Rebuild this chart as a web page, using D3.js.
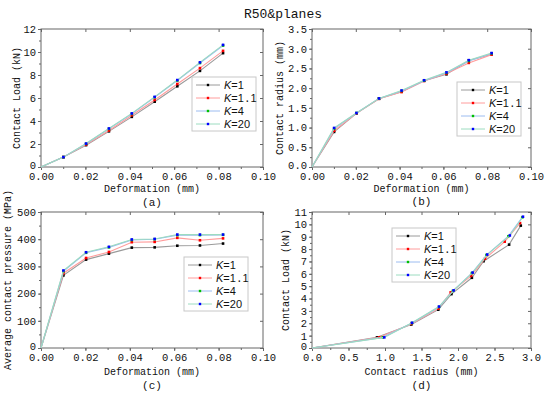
<!DOCTYPE html>
<html>
<head>
<meta charset="utf-8">
<script src="https://cdn.jsdelivr.net/npm/d3@7"></script>
<style>
body { margin: 0; background: #fff; }
svg { display: block; }
.tick text { font-family: "Liberation Mono", monospace; font-size: 10.5px; fill: #111; }
.lab { font-family: "Liberation Mono", monospace; font-size: 10px; fill: #111; }
</style>
</head>
<body>
<svg id="chart" width="550" height="395"></svg>
<script>
// deformation (mm)
var deformation = [0, 0.0101, 0.0203, 0.0306, 0.0409, 0.0512, 0.0614, 0.0716, 0.082];
var seriesNames = ["1", "1.1", "4", "20"];

// contact load (kN)
var loadK1   = [0, 0.86, 1.90, 3.10, 4.36, 5.68, 7.02, 8.36, 9.90];
var loadK11  = [0, 0.86, 1.95, 3.18, 4.50, 5.83, 7.22, 8.60, 10.10];
var loadK4   = [0, 0.86, 2.02, 3.32, 4.62, 6.06, 7.52, 9.04, 10.56];
var loadK20  = [0, 0.86, 2.04, 3.35, 4.66, 6.10, 7.56, 9.10, 10.62];

// contact radius (mm)
var radiusK1  = [0, 0.89, 1.36, 1.73, 1.91, 2.19, 2.35, 2.70, 2.86];
var radiusK11 = [0, 0.92, 1.36, 1.73, 1.90, 2.18, 2.37, 2.64, 2.85];
var radiusK4  = [0, 0.97, 1.37, 1.74, 1.93, 2.19, 2.39, 2.69, 2.88];
var radiusK20 = [0, 0.99, 1.37, 1.74, 1.94, 2.20, 2.40, 2.71, 2.89];

// average contact pressure (MPa)
var pressK1  = [0, 267, 325, 347, 369, 370, 376, 377, 384];
var pressK11 = [0, 275, 331, 353, 389, 390, 405, 396, 403];
var pressK4  = [0, 282, 350, 370, 397, 400, 415, 415, 416];
var pressK20 = [0, 285, 352, 372, 399, 401, 417, 417, 417];

var deformTicks = [0, 0.02, 0.04, 0.06, 0.08, 0.10];

var lineColors   = ["#9a9a9a", "#ff9c9c", "#9cbcf0", "#9cdcc0"];
var markerColors = ["#000000", "#ff0000", "#00c000", "#0000ff"];

var svg = d3.select("#chart");

svg.append("text")
    .attr("x", 283).attr("y", 18)
    .attr("text-anchor", "middle")
    .style("font-family", "Liberation Mono, monospace")
    .style("font-size", "13px")
    .attr("fill", "#111")
    .text("R50&planes");

var panels = [
    {
        box: [41, 29, 263, 167],
        xs: [deformation, deformation, deformation, deformation],
        ys: [loadK1, loadK11, loadK4, loadK20],
        xDomain: [0, 0.10], yDomain: [0, 12],
        xTicks: deformTicks, yTicks: d3.range(0, 13, 2),
        xMinor: 0.01, yMinor: 1,
        xFmt: d3.format(".2f"), yFmt: d3.format("d"),
        xLabel: "Deformation (mm)", yLabel: "Contact Load (kN)",
        xLabelY: 192, yLabelX: 20, caption: "(a)", captionY: 206,
        legend: [192, 77]
    },
    {
        box: [312, 29, 531, 167],
        xs: [deformation, deformation, deformation, deformation],
        ys: [radiusK1, radiusK11, radiusK4, radiusK20],
        xDomain: [0, 0.10], yDomain: [0, 3.5],
        xTicks: deformTicks, yTicks: d3.range(0, 3.51, 0.5),
        xMinor: 0.01, yMinor: 0.25,
        xFmt: d3.format(".2f"), yFmt: d3.format(".1f"),
        xLabel: "Deformation (mm)", yLabel: "Contact radius (mm)",
        xLabelY: 192, yLabelX: 283, caption: "(b)", captionY: 205,
        legend: [457, 82]
    },
    {
        box: [41, 212, 263, 348],
        xs: [deformation, deformation, deformation, deformation],
        ys: [pressK1, pressK11, pressK4, pressK20],
        xDomain: [0, 0.10], yDomain: [0, 500],
        xTicks: deformTicks, yTicks: d3.range(0, 501, 100),
        xMinor: 0.01, yMinor: 50,
        xFmt: d3.format(".2f"), yFmt: d3.format("d"),
        xLabel: "Deformation (mm)", yLabel: "Average contact pressure (MPa)",
        xLabelY: 375, yLabelX: 11, caption: "(c)", captionY: 389,
        legend: [184, 257]
    },
    {
        box: [312, 212, 531, 348],
        xs: [radiusK1, radiusK11, radiusK4, radiusK20],
        ys: [loadK1, loadK11, loadK4, loadK20],
        xDomain: [0, 3.0], yDomain: [0, 11],
        xTicks: d3.range(0, 3.01, 0.5), yTicks: d3.range(0, 12, 1),
        xMinor: 0.25, yMinor: 0.5,
        xFmt: d3.format(".1f"), yFmt: d3.format("d"),
        xLabel: "Contact radius (mm)", yLabel: "Contact Load (kN)",
        xLabelY: 375, yLabelX: 289, caption: "(d)", captionY: 389,
        legend: [392, 228]
    }
];

panels.forEach(function(p) {
    var x0 = p.box[0], y0 = p.box[1], x1 = p.box[2], y1 = p.box[3];
    var x = d3.scaleLinear().domain(p.xDomain).range([x0, x1]);
    var y = d3.scaleLinear().domain(p.yDomain).range([y1, y0]);
    var g = svg.append("g");

    var xMinorTicks = d3.range(p.xDomain[0], p.xDomain[1] + 1e-9, p.xMinor);
    var yMinorTicks = d3.range(p.yDomain[0], p.yDomain[1] + 1e-9, p.yMinor);

    // minor ticks, outward on bottom/left, inward on top/right
    g.append("g").attr("transform", "translate(0," + y1 + ")")
        .call(d3.axisBottom(x).tickValues(xMinorTicks).tickSize(2).tickFormat(""));
    g.append("g").attr("transform", "translate(" + x0 + ",0)")
        .call(d3.axisLeft(y).tickValues(yMinorTicks).tickSize(2).tickFormat(""));
    g.append("g").attr("transform", "translate(0," + y0 + ")")
        .call(d3.axisTop(x).tickValues(p.xTicks).tickSize(-3).tickFormat(""));
    g.append("g").attr("transform", "translate(" + x1 + ",0)")
        .call(d3.axisRight(y).tickValues(p.yTicks).tickSize(-3).tickFormat(""));

    // major ticks
    g.append("g").attr("transform", "translate(0," + y1 + ")")
        .call(d3.axisBottom(x).tickValues(p.xTicks).tickSize(3).tickPadding(3).tickFormat(p.xFmt));
    var yAxis = g.append("g").attr("transform", "translate(" + x0 + ",0)")
        .call(d3.axisLeft(y).tickValues(p.yTicks).tickSize(3).tickPadding(2).tickFormat(p.yFmt));
    // lift the bottom "0" a touch so it clears the x labels
    yAxis.selectAll(".tick text").filter(function(d) { return d === 0; })
        .attr("dy", "0.16em");

    g.selectAll(".domain").remove();
    g.selectAll(".tick line").attr("stroke", "#666");

    g.append("rect")
        .attr("x", x0).attr("y", y0)
        .attr("width", x1 - x0).attr("height", y1 - y0)
        .attr("fill", "none").attr("stroke", "#666").attr("stroke-width", 1);

    var line = d3.line()
        .x(function(d) { return x(d[0]); })
        .y(function(d) { return y(d[1]); });

    p.ys.forEach(function(ys, i) {
        var pts = ys.map(function(v, j) { return [p.xs[i][j], v]; });
        g.append("path").datum(pts)
            .attr("fill", "none")
            .attr("stroke", lineColors[i])
            .attr("stroke-width", 1.1)
            .attr("d", line);
        g.selectAll(null).data(pts.slice(1)).enter().append("rect")
            .attr("x", function(d) { return x(d[0]) - 1.3; })
            .attr("y", function(d) { return y(d[1]) - 1.3; })
            .attr("width", 2.6).attr("height", 2.6)
            .attr("fill", markerColors[i]);
    });

    // axis labels
    g.append("text").attr("class", "lab")
        .attr("x", (x0 + x1) / 2).attr("y", p.xLabelY)
        .attr("text-anchor", "middle")
        .text(p.xLabel);
    g.append("text").attr("class", "lab")
        .attr("transform", "translate(" + p.yLabelX + "," + ((y0 + y1) / 2) + ") rotate(-90)")
        .attr("text-anchor", "middle")
        .text(p.yLabel);
    g.append("text").attr("class", "lab")
        .attr("x", (x0 + x1) / 2).attr("y", p.captionY)
        .attr("text-anchor", "middle")
        .style("font-size", "11px")
        .text(p.caption);

    // legend
    var lx = p.legend[0], ly = p.legend[1];
    var lg = g.append("g").attr("transform", "translate(" + lx + "," + ly + ")");
    lg.append("rect")
        .attr("width", 64).attr("height", 54)
        .attr("fill", "#fff").attr("stroke", "#c8c8c8");
    seriesNames.forEach(function(name, i) {
        var yy = 8 + i * 13;
        lg.append("line")
            .attr("x1", 4).attr("x2", 28).attr("y1", yy).attr("y2", yy)
            .attr("stroke", lineColors[i]);
        lg.append("rect")
            .attr("x", 16 - 1.2).attr("y", yy - 1.2)
            .attr("width", 2.4).attr("height", 2.4)
            .attr("fill", markerColors[i]);
        var t = lg.append("text")
            .attr("x", 32).attr("y", yy + 4)
            .style("font-family", "Liberation Sans, Arial, sans-serif")
            .style("font-size", "11px")
            .attr("fill", "#111");
        t.append("tspan").style("font-style", "italic").text("K");
        var parts = ("=" + name).split(".");
        t.append("tspan").text(parts[0]);
        if (parts.length > 1) {
            t.append("tspan").style("font-family", "Liberation Mono, monospace").text(".");
            t.append("tspan").text(parts[1]);
        }
    });
});
</script>
</body>
</html>
